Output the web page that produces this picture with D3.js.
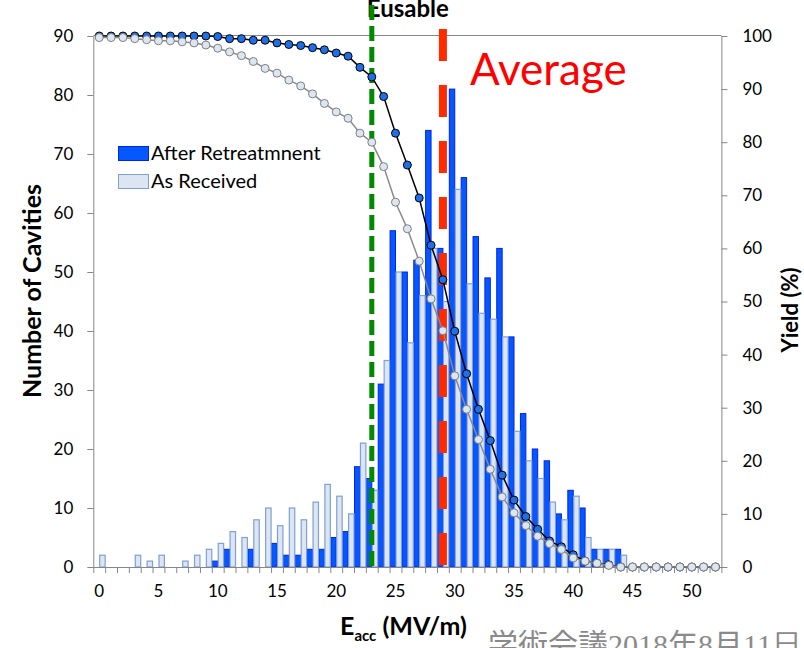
<!DOCTYPE html>
<html>
<head>
<meta charset="utf-8">
<script src="https://cdn.jsdelivr.net/npm/d3@7"></script>
<style>
  body { margin: 0; background: #fff; }
  svg { display: block; font-family: Lato, "Liberation Sans", sans-serif; }
  .axis path, .axis line { stroke: #868686; }
  .axis text { font-size: 17px; fill: #000; font-family: Lato, sans-serif; }
</style>
</head>
<body>
<div id="chart"></div>
<script>
// Eacc bins (MV/m)
var categories = [0,1,2,3,4,5,6,7,8,9,10,11,12,13,14,15,16,17,18,19,20,21,22,23,24,25,26,
  27,28,29,30,31,32,33,34,35,36,37,38,39,40,41,42,43,44,45,46,47,48,49,50,51,52];

// number of cavities per bin
var afterCounts = [0,0,0,0,0,0,0,0,0,0,1,3,0,3,0,4,2,2,3,3,5,6,17,15,31,57,50,52,74,54,
  81,66,56,49,54,39,26,20,18,9,13,10,3,3,3,0,0,0,0,0,0,0,0];
var receivedCounts = [2,0,0,2,1,2,0,1,2,3,4,6,5,8,10,7,10,8,11,14,12,9,21,13,35,50,38,46,54,45,
  64,48,43,42,39,23,18,15,11,8,12,5,3,3,2,0,0,0,0,0,0,0,0];

// yield (%)
var afterYield = [100,100,100,100,100,100,100,100,100,100,99.9,99.5,99.5,99.2,99.2,98.7,98.4,98.2,
  97.8,97.4,96.8,96.2,94.1,92.3,88.6,81.7,75.7,69.5,60.6,54.1,44.4,36.4,29.7,23.8,17.3,12.6,9.5,
  7.1,4.9,3.8,2.3,1.1,0.7,0.4,0,0,0,0,0,0,0,0,0];
var receivedYield = [99.7,99.7,99.7,99.5,99.3,99.1,99.1,98.9,98.7,98.3,97.7,97.0,96.3,95.2,93.9,
  93.0,91.7,90.6,89.1,87.3,85.7,84.5,81.7,80.0,75.4,68.7,63.7,57.6,50.5,44.5,36.0,29.7,24.0,18.4,
  13.2,10.2,7.8,5.8,4.4,3.3,1.7,1.1,0.7,0.3,0,0,0,0,0,0,0,0,0];

var leftTicks = [0,10,20,30,40,50,60,70,80,90];
var rightTicks = [0,10,20,30,40,50,60,70,80,90,100];
var xTickLabels = [0,5,10,15,20,25,30,35,40,45,50];

var eUsable = 23;
var eAverage = 29;

var W = 804, H = 648;
var plot = {left: 93.3, right: 721.4, top: 36, bottom: 567};

var svg = d3.select("#chart").append("svg")
  .attr("width", W).attr("height", H);

var x = d3.scaleBand()
  .domain(categories)
  .range([plot.left, plot.right])
  .paddingInner(0).paddingOuter(0);
var bw = x.bandwidth();

var xEdge = d3.scaleLinear()
  .domain([0, categories.length])
  .range([plot.left, plot.right]);

var yLeft = d3.scaleLinear().domain([0, 90]).range([plot.bottom, plot.top]);
var yRight = d3.scaleLinear().domain([0, 100]).range([plot.bottom, plot.top]);

// bars
var bars = svg.append("g");
bars.selectAll("rect.after")
  .data(categories.filter(function(c, i) { return afterCounts[i] > 0; }))
  .enter().append("rect")
  .attr("class", "after")
  .attr("x", d => x(d) + 0.5)
  .attr("width", bw / 2 - 0.5)
  .attr("y", d => yLeft(afterCounts[d]))
  .attr("height", d => yLeft(0) - yLeft(afterCounts[d]))
  .style("fill", "#0558ff")
  .style("stroke", "#0022ee")
  .style("stroke-width", 1);

bars.selectAll("rect.received")
  .data(categories.filter(function(c, i) { return receivedCounts[i] > 0; }))
  .enter().append("rect")
  .attr("class", "received")
  .attr("x", d => x(d) + bw / 2 + 0.5)
  .attr("width", bw / 2 - 0.5)
  .attr("y", d => yLeft(receivedCounts[d]))
  .attr("height", d => yLeft(0) - yLeft(receivedCounts[d]))
  .style("fill", "#dce6f2")
  .style("stroke", "#7fa0d2")
  .style("stroke-width", 1.2);

// top border of plot
svg.append("line")
  .attr("x1", plot.left).attr("x2", plot.right)
  .attr("y1", plot.top - 0.5).attr("y2", plot.top - 0.5)
  .style("stroke", "#868686");

// axes
svg.append("g")
  .attr("class", "axis")
  .attr("transform", "translate(" + plot.left + ",0)")
  .call(d3.axisLeft(yLeft).tickValues(leftTicks).tickSize(6).tickSizeOuter(0).tickPadding(14));

svg.append("g")
  .attr("class", "axis")
  .attr("transform", "translate(" + plot.right + ",0)")
  .call(d3.axisRight(yRight).tickValues(rightTicks).tickSize(6).tickSizeOuter(0).tickPadding(15));

svg.append("g")
  .attr("class", "axis")
  .attr("transform", "translate(0," + plot.bottom + ")")
  .call(d3.axisBottom(xEdge).tickValues(d3.range(categories.length + 1)).tickFormat("").tickSize(6).tickSizeOuter(0));

var xLab = svg.append("g")
  .attr("class", "axis")
  .attr("transform", "translate(0," + plot.bottom + ")")
  .call(d3.axisBottom(x).tickValues(xTickLabels).tickSize(0).tickPadding(18));
xLab.select(".domain").remove();

// Eusable label and line (top of the label runs off the page, as in the original)
svg.append("text")
  .attr("x", x(eUsable) + bw / 2 + 36)
  .attr("y", 17)
  .style("text-anchor", "middle")
  .style("font-weight", "bold")
  .style("font-size", "24px")
  .text("Eusable");

svg.append("line")
  .attr("x1", x(eUsable) + bw / 2).attr("x2", x(eUsable) + bw / 2)
  .attr("y1", plot.bottom - 1).attr("y2", -4)
  .style("stroke", "#008a00")
  .style("stroke-width", 5)
  .style("stroke-dasharray", "15,6");

// Average line
svg.append("line")
  .attr("x1", x(eAverage) + bw / 2).attr("x2", x(eAverage) + bw / 2)
  .attr("y1", 29).attr("y2", plot.bottom)
  .style("stroke", "#ff2a00")
  .style("stroke-width", 8)
  .style("stroke-dasharray", "32,24");

svg.append("text")
  .attr("x", 470).attr("y", 85)
  .style("font-size", "44px")
  .style("fill", "#ff0000")
  .text("Average");

// yield lines
var line = d3.line()
  .x(d => x(d[0]) + bw / 2)
  .y(d => yRight(d[1]));

function drawYield(vals, lineColor, fill, stroke) {
  var pts = categories.map((c, i) => [c, vals[i]]);
  svg.append("path")
    .datum(pts)
    .attr("d", line)
    .style("fill", "none")
    .style("stroke", lineColor)
    .style("stroke-width", 1.5);
  svg.append("g").selectAll("circle")
    .data(pts)
    .enter().append("circle")
    .attr("cx", d => x(d[0]) + bw / 2)
    .attr("cy", d => yRight(d[1]))
    .attr("r", 4)
    .style("fill", fill)
    .style("stroke", stroke)
    .style("stroke-width", 1);
}
drawYield(afterYield, "#000", "#1f6fe8", "#000");
drawYield(receivedYield, "#8a8a8a", "#dce6f2", "#7f7f7f");

// legend
var legend = svg.append("g").attr("transform", "translate(118,146)");
var legendItems = [
  {label: "After Retreatmnent", fill: "#0558ff", stroke: "#0022ee"},
  {label: "As Received", fill: "#dce6f2", stroke: "#7fa0d2"}
];
legendItems.forEach(function(d, i) {
  legend.append("rect")
    .attr("x", 0.5).attr("y", i * 28 + 0.5)
    .attr("width", 30).attr("height", 14)
    .style("fill", d.fill).style("stroke", d.stroke);
  legend.append("text")
    .attr("x", 33).attr("y", i * 28 + 14)
    .style("font-size", "20px")
    .text(d.label);
});

// axis titles
svg.append("text")
  .attr("transform", "translate(41,291) rotate(-90)")
  .style("text-anchor", "middle")
  .style("font-weight", "bold")
  .style("font-size", "25px")
  .text("Number of Cavities");

svg.append("text")
  .attr("transform", "translate(798,310) rotate(-90)")
  .style("text-anchor", "middle")
  .style("font-weight", "bold")
  .style("font-size", "22px")
  .text("Yield (%)");

var xt = svg.append("text")
  .attr("x", 340).attr("y", 635)
  .style("font-weight", "bold")
  .style("font-size", "25px");
xt.append("tspan").text("E");
xt.append("tspan").attr("dy", 6).style("font-size", "15px").text("acc");
xt.append("tspan").attr("dy", -6).text(" (MV/m)");

// footer text (cut off by the page edge, as in the original)
var ft = svg.append("text")
  .attr("x", 488).attr("y", 655)
  .style("font-size", "30px")
  .style("fill", "#8a8a8a");
ft.append("tspan").style("font-family", "'Noto Sans CJK JP'").text("学術会議");
ft.append("tspan").style("font-family", "'Liberation Serif'").text("2018");
ft.append("tspan").style("font-family", "'Noto Sans CJK JP'").text("年");
ft.append("tspan").style("font-family", "'Liberation Serif'").text("8");
ft.append("tspan").style("font-family", "'Noto Sans CJK JP'").text("月");
ft.append("tspan").style("font-family", "'Liberation Serif'").text("11日");
</script>
</body>
</html>
